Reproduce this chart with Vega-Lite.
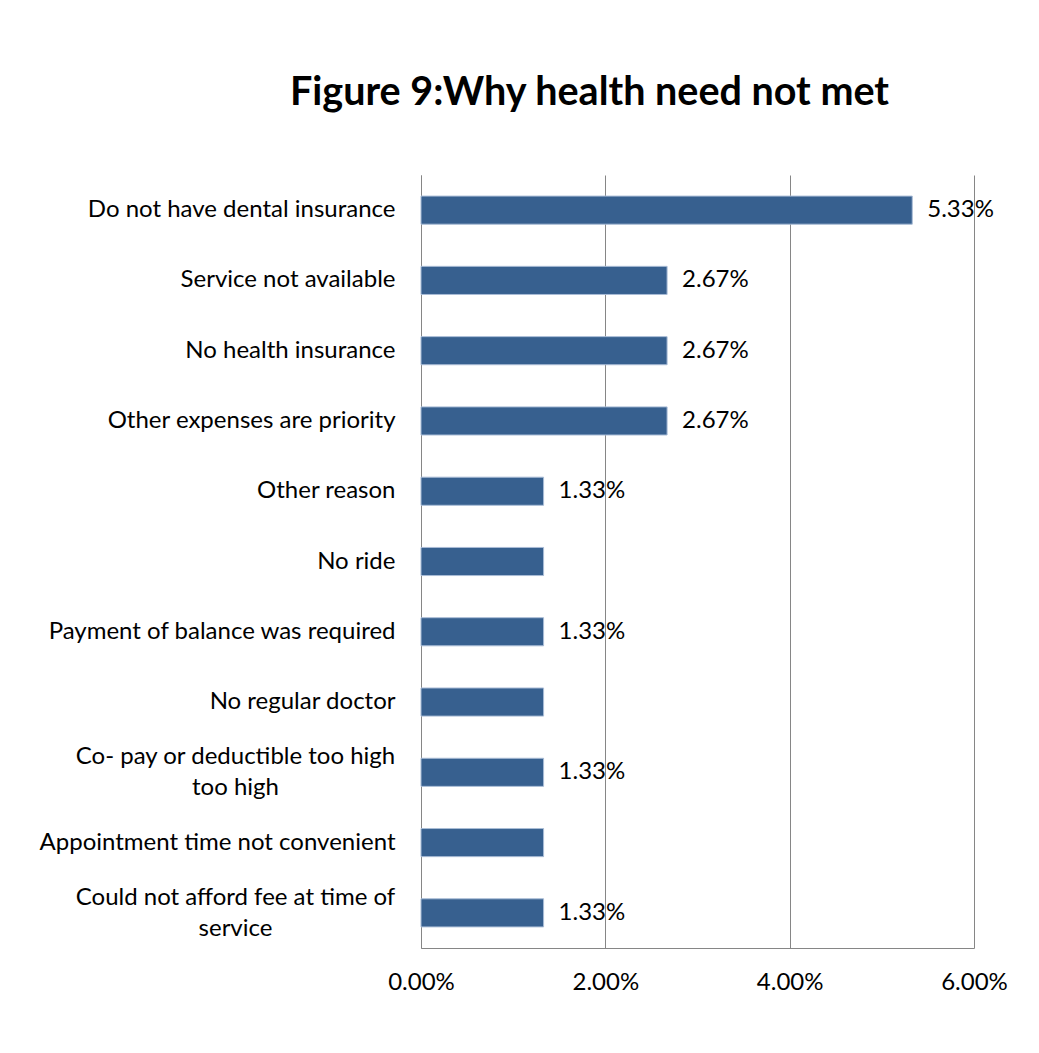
{
  "$schema": "https://vega.github.io/schema/vega-lite/v6.json",
  "autosize": {"type": "none"},
  "width": 553,
  "height": 773,
  "padding": {"left": 421, "top": 175, "right": 65, "bottom": 105},
  "background": "white",
  "config": {
    "view": {"stroke": null},
    "font": "Lato"
  },
  "title": {
    "text": "Figure 9:Why health need not met",
    "font": "Lato",
    "fontSize": 39.5,
    "fontWeight": "bold",
    "color": "#000000",
    "anchor": "middle",
    "dx": -108,
    "offset": 62
  },
  "data": {
    "values": [
      {"reason": "Do not have dental insurance", "pct": 0.0533, "labeled": true},
      {"reason": "Service not available", "pct": 0.0267, "labeled": true},
      {"reason": "No health insurance", "pct": 0.0267, "labeled": true},
      {"reason": "Other expenses are priority", "pct": 0.0267, "labeled": true},
      {"reason": "Other reason", "pct": 0.0133, "labeled": true},
      {"reason": "No ride", "pct": 0.0133, "labeled": false},
      {"reason": "Payment of balance was required", "pct": 0.0133, "labeled": true},
      {"reason": "No regular doctor", "pct": 0.0133, "labeled": false},
      {"reason": "Co- pay or deductible too high\ntoo high", "pct": 0.0133, "labeled": true},
      {"reason": "Appointment time not convenient", "pct": 0.0133, "labeled": false},
      {"reason": "Could not afford fee at time of\nservice", "pct": 0.0133, "labeled": true}
    ]
  },
  "encoding": {
    "y": {
      "field": "reason",
      "type": "nominal",
      "sort": null,
      "scale": {"paddingInner": 0.6, "paddingOuter": 0.3},
      "axis": {
        "title": null,
        "domain": true,
        "domainColor": "#868686",
        "ticks": false,
        "labelFontSize": 24,
        "labelColor": "#000000",
        "labelLimit": 420,
        "labelLineHeight": 31,
        "labelExpr": "split(datum.label, '\\n')",
        "labelAlign": {"condition": {"test": "indexof(datum.value, '\\n') >= 0", "value": "center"}, "value": "right"},
        "labelPadding": {"condition": {"test": "indexof(datum.value, '\\n') >= 0", "value": 186}, "value": 26},
        "labelOffset": {"condition": {"test": "indexof(datum.value, '\\n') >= 0", "value": -15}, "value": 0}
      }
    },
    "x": {
      "field": "pct",
      "type": "quantitative",
      "scale": {"domain": [0, 0.06], "nice": false},
      "axis": {
        "title": null,
        "format": ".2%",
        "values": [0, 0.02, 0.04, 0.06],
        "grid": true,
        "gridColor": "#868686",
        "gridWidth": 1,
        "domain": true,
        "domainColor": "#868686",
        "ticks": false,
        "labelFlush": false,
        "labelOverlap": false,
        "labelPadding": 22,
        "labelFontSize": 24,
        "labelColor": "#000000"
      }
    }
  },
  "layer": [
    {
      "mark": {"type": "bar", "color": "#37608f", "stroke": "#a9bcd6", "strokeWidth": 1}
    },
    {
      "transform": [{"filter": "datum.labeled"}],
      "mark": {"type": "text", "align": "left", "baseline": "middle", "dx": 15, "fontSize": 24, "color": "#000000"},
      "encoding": {
        "text": {"field": "pct", "type": "quantitative", "format": ".2%"}
      }
    }
  ]
}
